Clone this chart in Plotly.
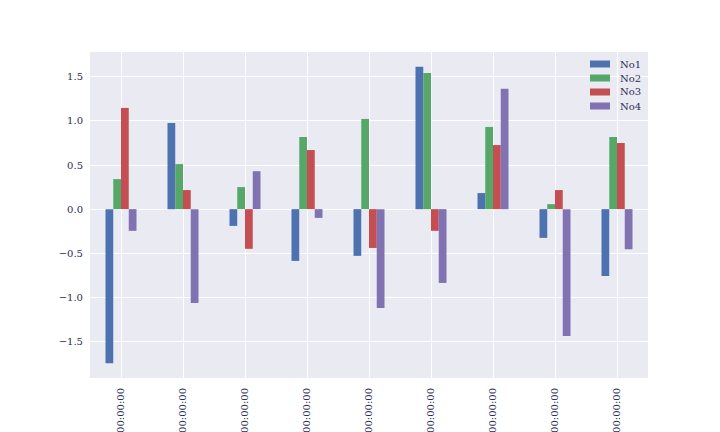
import plotly.graph_objects as go

positions = list(range(9))
tick_labels = ["00:00:00"] * 9

no1 = [-1.747, 0.977, -0.19, -0.587, -0.53, 1.614, 0.182, -0.326, -0.758]
no2 = [0.34, 0.511, 0.25, 0.818, 1.023, 1.545, 0.932, 0.057, 0.818]
no3 = [1.148, 0.216, -0.45, 0.67, -0.44, -0.246, 0.727, 0.216, 0.75]
no4 = [-0.246, -1.065, 0.43, -0.099, -1.12, -0.837, 1.364, -1.44, -0.455]

series_names = ["No1", "No2", "No3", "No4"]
series_values = [no1, no2, no3, no4]
series_colors = ["#4C72B0", "#55A868", "#C44E52", "#8172B2"]

font_family = "DejaVu Serif"
text_color = "#2c2c58"

fig = go.Figure()
for name, vals, col in zip(series_names, series_values, series_colors):
    fig.add_trace(go.Bar(x=positions, y=vals, name=name, showlegend=False,
                         marker=dict(color=col, line=dict(width=0))))

# legend drawn like matplotlib's frameless legend (wide patches, tight rows)
plot_w, plot_h = 558.0, 326.0
shapes, annotations = [], []
for i, (name, col) in enumerate(zip(series_names, series_colors)):
    yc = (326 - (12 + 14 * i)) / plot_h
    shapes.append(dict(type="rect", xref="paper", yref="paper",
                       x0=500 / plot_w, x1=520 / plot_w,
                       y0=yc - 3.5 / plot_h, y1=yc + 3.5 / plot_h,
                       fillcolor=col, line=dict(width=0), layer="above"))
    annotations.append(dict(text=name, xref="paper", yref="paper",
                            x=528 / plot_w, y=yc, xanchor="left", yanchor="middle",
                            showarrow=False,
                            font=dict(family=font_family, size=10, color=text_color)))

fig.update_layout(
    width=720, height=432,
    margin=dict(l=82, r=80, t=44, b=62, autoexpand=False),
    paper_bgcolor="white",
    plot_bgcolor="#EAEAF2",
    barmode="group",
    bargap=0.5,
    bargroupgap=0,
    font=dict(family=font_family, size=10, color=text_color),
    showlegend=False,
    shapes=shapes,
    annotations=annotations,
)
fig.update_xaxes(
    range=[-0.5, 8.5],
    tickmode="array", tickvals=positions, ticktext=tick_labels,
    tickangle=-90, showgrid=True, gridcolor="white", gridwidth=1,
    zeroline=False, ticks="", showline=False, automargin=False,
    ticklabelstandoff=7,
    tickfont=dict(size=10),
)
fig.update_yaxes(
    range=[-1.915, 1.782],
    tickmode="array", tickvals=[-1.5, -1.0, -0.5, 0.0, 0.5, 1.0, 1.5],
    tickformat=".1f",
    showgrid=True, gridcolor="white", gridwidth=1,
    zeroline=False, ticks="", showline=False, automargin=False,
    ticklabelstandoff=6,
    tickfont=dict(size=10),
)

fig.write_html("out.html")
